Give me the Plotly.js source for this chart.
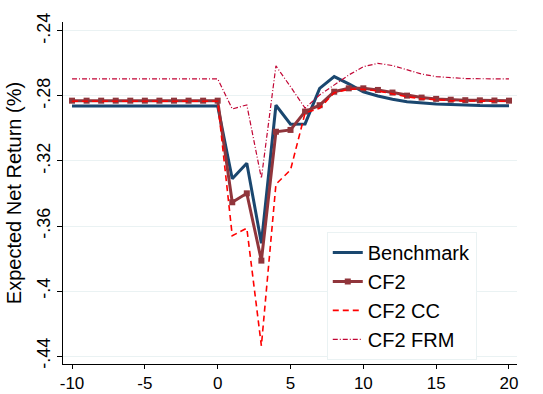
<!DOCTYPE html>
<html>
<head>
<meta charset="utf-8">
<script src="https://cdn.plot.ly/plotly-3.0.1.min.js"></script>
<style>html,body{margin:0;padding:0;background:#fff;}#chart{width:543px;height:394px;}</style>
</head>
<body>
<div id="chart"></div>
<script>
const periods = [-10,-9,-8,-7,-6,-5,-4,-3,-2,-1,0,1,2,3,4,5,6,7,8,9,10,11,12,13,14,15,16,17,18,19,20];
const benchmark = [-0.2862,-0.2862,-0.2862,-0.2862,-0.2862,-0.2862,-0.2862,-0.2862,-0.2862,-0.2862,-0.2862,
  -0.3309,-0.3214,-0.3706,-0.2857,-0.2974,-0.2972,-0.2753,-0.2681,-0.2726,-0.2774,
  -0.2800,-0.2820,-0.2835,-0.2843,-0.2849,-0.2853,-0.2857,-0.2859,-0.2860,-0.2861];
const cf2 = [-0.2829,-0.2829,-0.2829,-0.2829,-0.2829,-0.2829,-0.2829,-0.2829,-0.2829,-0.2829,-0.2829,
  -0.3454,-0.3399,-0.3813,-0.3020,-0.3009,-0.2896,-0.2857,-0.2774,-0.2753,-0.2753,
  -0.2763,-0.2779,-0.2798,-0.2810,-0.2818,-0.2823,-0.2826,-0.2827,-0.2828,-0.2829];
const cf2cc = [-0.2833,-0.2833,-0.2833,-0.2833,-0.2833,-0.2833,-0.2833,-0.2833,-0.2833,-0.2833,-0.2833,
  -0.3660,-0.3614,-0.4337,-0.3343,-0.3255,-0.2905,-0.2876,-0.2780,-0.2759,-0.2759,
  -0.2769,-0.2786,-0.2805,-0.2817,-0.2825,-0.2829,-0.2831,-0.2832,-0.2833,-0.2833];
const cf2frm = [-0.2695,-0.2695,-0.2695,-0.2695,-0.2695,-0.2695,-0.2695,-0.2695,-0.2695,-0.2695,-0.2695,
  -0.2880,-0.2855,-0.3307,-0.2615,-0.2743,-0.2875,-0.2794,-0.2732,-0.2671,-0.2620,
  -0.2599,-0.2613,-0.2640,-0.2665,-0.2681,-0.2689,-0.2693,-0.2694,-0.2695,-0.2695];
const yTickVals = [-0.24,-0.28,-0.32,-0.36,-0.40,-0.44];
const yTickText = ["-.24","-.28","-.32","-.36","-.4","-.44"];
const xTickVals = [-10,-5,0,5,10,15,20];
const xTickText = ["-10","-5","0","5","10","15","20"];

const traces = [
  {x: periods, y: benchmark, name: "Benchmark", mode: "lines",
   line: {color: "#1a476f", width: 3}},
  {x: periods, y: cf2, name: "CF2", mode: "lines+markers",
   line: {color: "#90353b", width: 3}, marker: {symbol: "square", size: 6, color: "#90353b"}},
  {x: periods, y: cf2cc, name: "CF2 CC", mode: "lines",
   line: {color: "#ff0000", width: 1.6, dash: "6px,4px"}},
  {x: periods, y: cf2frm, name: "CF2 FRM", mode: "lines",
   line: {color: "#c10534", width: 1.2, dash: "5px,2px,1px,2px"}}
];

const layout = {
  width: 543, height: 394,
  margin: {l: 63, r: 26, t: 22, b: 30},
  paper_bgcolor: "#ffffff", plot_bgcolor: "#ffffff",
  font: {family: "Liberation Sans, Arial, sans-serif", size: 18, color: "#000"},
  showlegend: true,
  legend: {x: 0.581, y: 0.012, xanchor: "left", yanchor: "bottom",
    bgcolor: "#ffffff", bordercolor: "#eaf2f3", borderwidth: 1,
    font: {size: 20}, tracegroupgap: 0, entrywidth: 135, entrywidthmode: "pixels"},
  xaxis: {range: [-10.62, 20.55], tickvals: xTickVals, ticktext: xTickText,
    ticks: "outside", ticklen: 4,
    tickcolor: "#000", showline: true, linecolor: "#000", linewidth: 1,
    showgrid: false, zeroline: false, tickfont: {size: 17}},
  yaxis: {range: [-0.4449, -0.2345], tickvals: yTickVals, ticktext: yTickText,
    tickangle: -90, ticks: "outside", ticklen: 5, tickcolor: "#000",
    showline: true, linecolor: "#000", linewidth: 1,
    showgrid: true, gridcolor: "#eaf2f3", gridwidth: 1, zeroline: false,
    tickfont: {size: 18},
    title: {text: "Expected Net Return (%)", font: {size: 20}, standoff: 6}}
};

Plotly.newPlot("chart", traces, layout, {displayModeBar: false, staticPlot: true});
</script>
</body>
</html>
